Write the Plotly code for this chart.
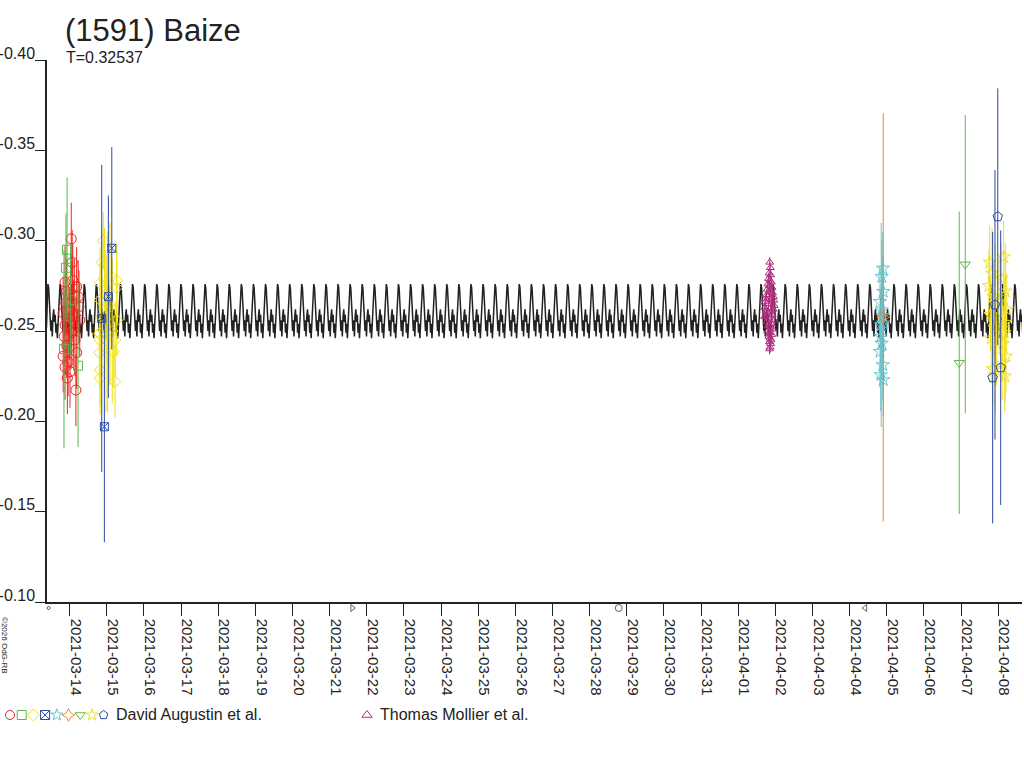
import plotly.graph_objects as go
import pandas as pd

# figure / plot box in pixels (the reference is a fixed 1024x768 image)
W, H = 1024, 768
BOX_L, BOX_R, BOX_T, BOX_B = 47, 1022, 60, 602

TITLE = "(1591) Baize"
PERIOD = 0.32537  # days

# one cycle of the model lightcurve
model_phase = [0.00, 0.06, 0.12, 0.18, 0.24, 0.30, 0.36, 0.42, 0.48,
               0.54, 0.60, 0.66, 0.72, 0.78, 0.84, 0.90, 0.96]
model_mag = [-0.252, -0.262, -0.276, -0.274, -0.262, -0.258, -0.250, -0.256, -0.247,
             -0.258, -0.262, -0.255, -0.259, -0.249, -0.254, -0.246, -0.255]
model_start = "2021-03-13 09:00"
n_cycles = 81

# David Augustin et al. - hours from base date, magnitude, error
red_base = "2021-03-14"
red_h = [1.0, 1.6, -3.0, 4.5, -2.0, 5.5, -2.4, 6.0, -4.2, -1.0, 6.5, -3.0, 2.3, -3.6, 3.4,
         -1.9, 4.5, -4.2, -1.0, -3.0, 0.2, -1.5, 4.0, 0.5, 1.5, 2.5, 3.0, 0.0, 1.0, 2.0]
red_mag = [-0.301, -0.288, -0.277, -0.2745, -0.272, -0.269, -0.2655, -0.2635, -0.260, -0.257,
           -0.256, -0.2533, -0.2505, -0.247, -0.245, -0.242, -0.238, -0.236, -0.233, -0.230,
           -0.2275, -0.224, -0.2173, -0.262, -0.266, -0.258, -0.270, -0.254, -0.249, -0.278]
red_err = [0.02, 0.018, 0.02, 0.022, 0.018, 0.02, 0.017, 0.02, 0.02, 0.019,
           0.02, 0.02, 0.021, 0.02, 0.02, 0.018, 0.02, 0.02, 0.019, 0.018,
           0.02, 0.02, 0.02, 0.02, 0.022, 0.02, 0.02, 0.02, 0.02, 0.02]

green_base = "2021-03-14"
green_h = [-1.7, -2.4, -3.7, 5.4, 0.6]
green_mag = [-0.295, -0.285, -0.240, -0.2308, -0.267]
green_err = [0.040, 0.030, 0.055, 0.045, 0.030]

yellow_base = "2021-03-15"
yellow_h = [-2.3, -3.3, 6.4, -4.4, 6.4, -4.4, -3.3, 6.4, -4.8, 5.3, -4.4, 4.2, -4.8, -4.4,
            5.3, -4.4, 0.0, 1.5, -1.0, 3.0, -1.5, 0.5, 2.0, 3.5, -0.5]
yellow_mag = [-0.300, -0.288, -0.278, -0.2764, -0.274, -0.2672, -0.258, -0.256, -0.2487,
              -0.245, -0.245, -0.2386, -0.238, -0.2284, -0.222, -0.2238, -0.262, -0.250,
              -0.270, -0.280, -0.262, -0.255, -0.265, -0.250, -0.245]
yellow_err = [0.016, 0.02, 0.02, 0.02, 0.02, 0.02, 0.02, 0.02, 0.02, 0.02, 0.02, 0.02,
              0.02, 0.02, 0.02, 0.02, 0.03, 0.03, 0.025, 0.02, 0.045, 0.05, 0.045, 0.04, 0.04]

bluex_base = "2021-03-15"
bluex_h = [3.2, 1.0, -1.6, -3.3]
bluex_mag = [-0.2958, -0.269, -0.197, -0.257]
bluex_err = [0.056, 0.056, 0.064, 0.085]

cyan_base = "2021-04-05"
cyan_h = [-2.6, -3.3, -2.3, -4.4, -3.3, -2.3, -3.9, -3.3, -4.4, -2.6, -2.3, -3.9, -3.6, -2.6]
cyan_mag = [-0.2847, -0.280, -0.2718, -0.2662, -0.2616, -0.2543, -0.247, -0.2432, -0.2386,
            -0.2312, -0.2229, -0.2257, -0.2533, -0.2584]
cyan_err = [0.02, 0.02, 0.02, 0.02, 0.02, 0.02, 0.02, 0.02, 0.02, 0.02, 0.02, 0.02,
            0.0565, 0.025]

orange_base = "2021-04-05"
orange_h = [-2.3]
orange_mag = [-0.2576]
orange_err = [0.113]

gtri_base = "2021-04-07"
gtri_h = [2.7, -1.2]
gtri_mag = [-0.2869, -0.2324]
gtri_err = [0.0825, 0.0837]

ystar_base = "2021-04-08"
ystar_h = [-5.5, 3.5, -4.0, 2.0, -6.0, 4.5, -3.0, 0.5, 5.5, -5.0, 1.5, -2.0, 4.0, -4.5,
           3.0, -1.0, 5.0, 2.5, -3.5, 4.2, -1.9, 4.6]
ystar_mag = [-0.288, -0.291, -0.282, -0.279, -0.275, -0.272, -0.269, -0.266, -0.262, -0.259,
             -0.256, -0.252, -0.249, -0.246, -0.243, -0.240, -0.236, -0.232, -0.229, -0.225,
             -0.2514, -0.2547]
ystar_err = [0.02, 0.02, 0.025, 0.02, 0.02, 0.02, 0.02, 0.025, 0.02, 0.02, 0.02, 0.02,
             0.02, 0.025, 0.02, 0.02, 0.02, 0.02, 0.02, 0.02, 0.047, 0.044]

bpent_base = "2021-04-08"
bpent_h = [-0.3, -3.6, 1.6, -2.1]
bpent_mag = [-0.3133, -0.2242, -0.2297, -0.2645]
bpent_err = [0.071, 0.0807, 0.076, 0.0746]

# Thomas Mollier et al.
moll_base = "2021-04-01"
moll_h = [20.4, 20.7, 20.0, 21.0, 19.6, 20.5, 21.4, 19.2, 20.2, 21.8, 18.7, 20.9, 22.2, 18.3,
          20.0, 22.6, 17.8, 20.4, 23.0, 17.4, 19.6, 23.2, 17.1, 21.1, 22.5, 18.0, 19.2, 21.9,
          17.0, 19.9, 23.3, 18.5, 21.5, 19.4, 20.8, 22.4, 19.0, 20.2, 21.7, 19.8, 20.6, 21.1,
          20.3, 20.9, 20.6, 20.2]
moll_mag = [-0.288, -0.285, -0.282, -0.281, -0.279, -0.278, -0.277, -0.276, -0.275, -0.274,
            -0.273, -0.272, -0.271, -0.270, -0.270, -0.269, -0.268, -0.268, -0.267, -0.266,
            -0.265, -0.264, -0.263, -0.263, -0.262, -0.261, -0.260, -0.259, -0.258, -0.257,
            -0.256, -0.255, -0.254, -0.253, -0.252, -0.251, -0.250, -0.249, -0.248, -0.247,
            -0.246, -0.245, -0.244, -0.243, -0.241, -0.240]
moll_err = [0.003] * len(moll_mag)

# moon phases shown under the axis
moon_dates = ["2021-03-13 10:21", "2021-03-21 14:40", "2021-03-28 18:48", "2021-04-04 10:02"]
moon_symbols = ["circle-open", "triangle-right-open", "circle-open", "triangle-left-open"]
moon_sizes = [3, 6, 7, 6]

x_range = ["2021-03-13 09:20", "2021-04-08 15:22"]
day_ticks = pd.date_range("2021-03-14", "2021-04-08", freq="D")
y_ticks = [-0.40, -0.35, -0.30, -0.25, -0.20, -0.15, -0.10]
y_labels = ["-0.40", "-0.35", "-0.30", "-0.25", "-0.20", "-0.15", "-0.10"]

groups = [
    # base, hours, mag, err, symbol, colour, size
    (red_base, red_h, red_mag, red_err, "circle-open", "#ee2222", 10),
    (green_base, green_h, green_mag, green_err, "square-open", "#58b848", 9),
    (yellow_base, yellow_h, yellow_mag, yellow_err, "diamond-open", "#f2e20c", 9),
    (bluex_base, bluex_h, bluex_mag, bluex_err, "square-x-open", "#2c4aa6", 8),
    (cyan_base, cyan_h, cyan_mag, cyan_err, "star-open", "#5ec6d8", 10),
    (orange_base, orange_h, orange_mag, orange_err, "star-diamond-open", "#ff7f20", 9),
    (gtri_base, gtri_h, gtri_mag, gtri_err, "triangle-down-open", "#5cb848", 9),
    (ystar_base, ystar_h, ystar_mag, ystar_err, "star-open", "#f0e020", 10),
    (bpent_base, bpent_h, bpent_mag, bpent_err, "pentagon-open", "#2c48a0", 10),
]
MOLL_COLOR = "#b0307f"
TXT = "#222222"
FONT = "Liberation Sans, Arial, sans-serif"


def to_times(base, hours):
    return pd.Timestamp(base) + pd.to_timedelta(hours, unit="h")


fig = go.Figure()

# model curve, repeating the cycle with the rotation period
t_model, m_model = [], []
t0 = pd.Timestamp(model_start)
for k in range(n_cycles):
    for ph, mg in zip(model_phase, model_mag):
        t_model.append(t0 + pd.Timedelta(days=(k + ph) * PERIOD))
        m_model.append(mg)
fig.add_trace(go.Scatter(x=t_model, y=m_model, mode="lines",
                         line=dict(color="#222222", width=1.5), hoverinfo="skip"))

for base, hrs, mag, err, sym, col, sz in groups:
    fig.add_trace(go.Scatter(
        x=to_times(base, hrs), y=mag, mode="markers",
        marker=dict(symbol=sym, size=sz, color=col, line=dict(width=1, color=col)),
        error_y=dict(type="data", array=err, color=col, thickness=1, width=0)))

fig.add_trace(go.Scatter(
    x=to_times(moll_base, moll_h), y=moll_mag, mode="markers",
    marker=dict(symbol="triangle-up-open", size=7, color=MOLL_COLOR,
                line=dict(width=1, color=MOLL_COLOR)),
    error_y=dict(type="data", array=moll_err, color=MOLL_COLOR, thickness=1, width=0)))

# moon phase glyphs just under the x axis (pixel overlay for the vertical position)
fig.add_trace(go.Scatter(
    x=pd.to_datetime(moon_dates), y=[BOX_B + 6] * len(moon_dates), xaxis="x", yaxis="y2",
    mode="markers", cliponaxis=False,
    marker=dict(symbol=moon_symbols, size=moon_sizes, color=TXT, line=dict(width=1, color=TXT))))

# legend glyphs, drawn in the pixel overlay
leg_syms = [g[4] for g in groups]
leg_cols = [g[5] for g in groups]
leg_x = [10 + 11.7 * i for i in range(len(groups))]
fig.add_trace(go.Scatter(
    x=leg_x + [367], y=[715] * (len(groups) + 1), xaxis="x2", yaxis="y2",
    mode="markers", cliponaxis=False,
    marker=dict(symbol=leg_syms + ["triangle-up-open"], size=9,
                color=leg_cols + [MOLL_COLOR], line=dict(width=1, color=leg_cols + [MOLL_COLOR]))))

fig.update_layout(
    width=W, height=H, showlegend=False,
    paper_bgcolor="white", plot_bgcolor="rgba(0,0,0,0)",
    margin=dict(l=0, r=0, t=0, b=0, autoexpand=False),
    font=dict(family=FONT, color=TXT),
    xaxis=dict(
        domain=[BOX_L / W, BOX_R / W], range=x_range, type="date",
        tickvals=day_ticks, ticktext=[d.strftime("%Y-%m-%d") for d in day_ticks],
        tickangle=90, ticks="outside", ticklen=12, tickcolor=TXT, tickwidth=1,
        tickfont=dict(size=15, color=TXT), ticklabelshift=6,
        showline=True, linecolor=TXT, linewidth=1.5, showgrid=False, zeroline=False,
        anchor="y", automargin=False),
    yaxis=dict(
        domain=[(H - BOX_B) / H, (H - BOX_T) / H], range=[-0.10, -0.40],
        tickvals=y_ticks, ticktext=y_labels, ticks="outside", ticklen=10, tickcolor=TXT,
        tickwidth=1, tickfont=dict(size=16, color=TXT), ticklabelshift=7,
        ticklabelstandoff=-3,
        showline=True, linecolor=TXT, linewidth=1.5, showgrid=False, zeroline=False,
        anchor="x", automargin=False),
    xaxis2=dict(domain=[0, 1], range=[0, W], visible=False, anchor="y2"),
    yaxis2=dict(domain=[0, 1], range=[H, 0], visible=False, anchor="x2"),
)

fig.add_annotation(text=TITLE, x=63 / W, y=1 - 30 / H, xref="paper", yref="paper",
                   xanchor="left", yanchor="middle", showarrow=False,
                   font=dict(size=31, color=TXT))
fig.add_annotation(text=f"T={PERIOD}", x=64 / W, y=1 - 57 / H, xref="paper", yref="paper",
                   xanchor="left", yanchor="middle", showarrow=False,
                   font=dict(size=16, color=TXT))
fig.add_annotation(text="David Augustin et al.", x=114 / W, y=1 - 714 / H, xref="paper",
                   yref="paper", xanchor="left", yanchor="middle", showarrow=False,
                   font=dict(size=16, color=TXT))
fig.add_annotation(text="Thomas Mollier et al.", x=378 / W, y=1 - 714 / H, xref="paper",
                   yref="paper", xanchor="left", yanchor="middle", showarrow=False,
                   font=dict(size=16, color=TXT))
fig.add_annotation(text="©2026 OdG-RB", x=5 / W, y=1 - 645 / H, xref="paper", yref="paper",
                   xanchor="center", yanchor="middle", textangle=90, showarrow=False,
                   font=dict(size=8, color=TXT))

# the page's default body margin would push the 1024x768 figure off its frame
fig.write_html("out.html", config={"displayModeBar": False},
               post_script="document.body.style.margin = '0';")
